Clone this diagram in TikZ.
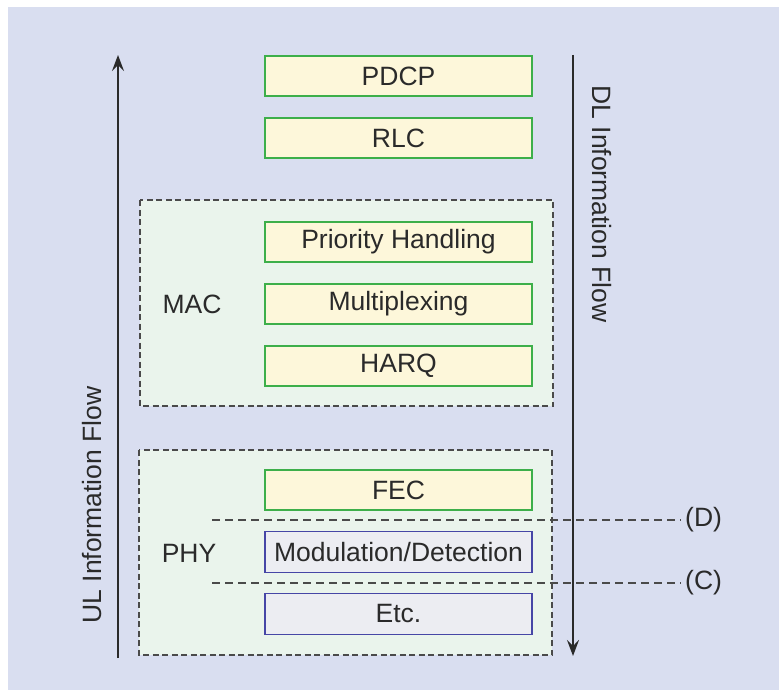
\documentclass[tikz,border=0pt]{standalone}
\usepackage{fontspec}
\setmainfont{Liberation Sans}
\usetikzlibrary{arrows.meta}
\definecolor{bgc}{HTML}{D9DEF0}
\definecolor{yfill}{HTML}{FDF7DA}
\definecolor{gborder}{HTML}{3DAF4A}
\definecolor{bfill}{HTML}{ECEDF2}
\definecolor{bborder}{HTML}{4646A6}
\definecolor{cfill}{HTML}{EAF4EC}
\definecolor{dk}{HTML}{2A2A2A}
\begin{document}
\begin{tikzpicture}[x=1pt,y=-1pt,
  txt/.style={font=\fontsize{26.5}{30}\selectfont, text=dk},
  ybox/.style={txt, draw=gborder, fill=yfill, line width=1.4pt, minimum width=267pt, minimum height=40pt, inner sep=0pt},
  bbox/.style={txt, draw=bborder, fill=bfill, line width=1.4pt, minimum width=267pt, minimum height=41pt, inner sep=0pt},
  container/.style={draw=dk!85, fill=cfill, line width=1.3pt, dash pattern=on 6pt off 3.5pt},
  cutline/.style={draw=dk!85, line width=1.3pt, dash pattern=on 8pt off 5pt},
  flow/.style={draw=dk, line width=1.6pt, -{Stealth[length=16pt,width=12pt,inset=6pt]}}
]
\fill[white] (0,0) rectangle (779,690);
\fill[bgc] (8,7) rectangle (779,690);
% containers
\draw[container] (140,200) rectangle (553,406);
\draw[container] (139,450) rectangle (552,655);
% boxes
\node[ybox] (pdcp) at (398.5,76) {PDCP};
\node[ybox] (rlc) at (398.5,138) {RLC};
\node[ybox] (prio) at (398.5,242) {Priority Handling};
\node[ybox] (mux) at (398.5,304) {Multiplexing};
\node[ybox] (harq) at (398.5,366) {HARQ};
\node[ybox] (fec) at (398.5,490) {FEC};
\node[bbox] (mod) at (398.5,552) {Modulation/Detection};
\node[bbox] (etc) at (398.5,614) {Etc.};
\node[txt] (mac) at (192,304) {MAC};
\node[txt] (phy) at (189,553) {PHY};
% flow arrows
\coordinate (ulbot) at (118,658);
\coordinate (ultop) at (118,55);
\coordinate (dltop) at (573,55);
\coordinate (dlbot) at (573,656);
\draw[flow] (ulbot) -- (ultop);
\draw[flow] (dltop) -- (dlbot);
\node[txt, rotate=90] (ultext) at (92,505) {UL Information Flow};
\node[txt, rotate=-90] (dltext) at (602,204) {DL Information Flow};
% cut lines
\node[txt, inner sep=0pt, anchor=west] (dlab) at (685,520) {(D)};
\node[txt, inner sep=0pt, anchor=west] (clab) at (685,583) {(C)};
\coordinate (dstart) at (212,520);
\coordinate (cstart) at (212,583);
\draw[cutline] (dstart) -- ([xshift=-4pt]dlab.west);
\draw[cutline] (cstart) -- ([xshift=-4pt]clab.west);
\end{tikzpicture}
\end{document}
